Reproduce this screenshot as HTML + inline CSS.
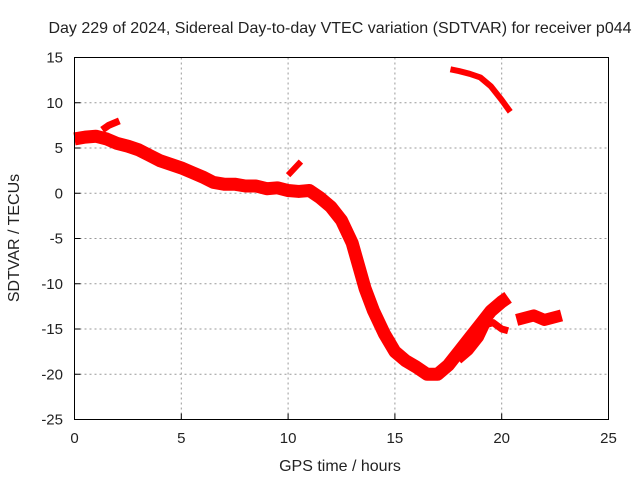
<!DOCTYPE html>
<html><head><meta charset="utf-8"><style>
body{margin:0;background:#fff}
text{font-family:"Liberation Sans",sans-serif;font-size:15px;fill:#222}
.big{font-size:16px}
</style></head><body>
<svg id="chart" width="640" height="480" xmlns="http://www.w3.org/2000/svg">
<text class="big" x="340" y="33" text-anchor="middle">Day 229 of 2024, Sidereal Day-to-day VTEC variation (SDTVAR) for receiver p044</text>
<g id="grid"></g><g id="ticks"></g><g id="series"></g>
<rect x="74.5" y="57.5" width="534" height="362" fill="none" stroke="#000" stroke-width="1"/>
<text class="big" transform="translate(19,238) rotate(-90)" text-anchor="middle">SDTVAR / TECUs</text>
<text class="big" x="340" y="471" text-anchor="middle">GPS time / hours</text>
</svg>
<script>
const xTicks=[0,5,10,15,20,25];
const yTicks=[15,10,5,0,-5,-10,-15,-20,-25];
const mainT=[0,0.5,1,1.5,2,2.5,3,3.5,4,4.5,5,5.5,6,6.5,7,7.5,8,8.5,9,9.5,10,10.5,11,11.5,12,12.5,13,13.3,13.6,14,14.5,15,15.5,16,16.5,17,17.5,18,18.5,19,19.5,20,20.3];
const mainV=[6,6.2,6.3,6,5.5,5.2,4.8,4.2,3.6,3.2,2.8,2.3,1.8,1.2,1,1,0.8,0.8,0.5,0.6,0.3,0.2,0.3,-0.5,-1.5,-3,-5.5,-8,-10.5,-13,-15.5,-17.5,-18.5,-19.2,-20,-20,-19,-17.5,-16,-14.5,-13,-12,-11.5];
const branchT=[18,18.5,19,19.3,19.6,20,20.3];
const branchV=[-18.5,-17.5,-16,-14.5,-14.3,-15,-15.2];
const earlyT=[1.3,1.6,2.1];
const earlyV=[7,7.5,8];
const rightT=[20.7,21.5,22,22.8];
const rightV=[-14,-13.5,-14,-13.5];
const topT=[17.6,18,18.5,19,19.5,20,20.4];
const topV=[13.7,13.5,13.2,12.8,11.8,10.3,9];
const spikeT=[10,10.6];
const spikeV=[2,3.5];
const X=t=>74.5+t*(534/25);
const Y=v=>57.5+(15-v)*(362/40);
const NS="http://www.w3.org/2000/svg";
const g=document.getElementById('grid'),tk=document.getElementById('ticks'),sr=document.getElementById('series');
function mk(tag,attrs,parent){const e=document.createElementNS(NS,tag);for(const k in attrs)e.setAttribute(k,attrs[k]);parent.appendChild(e);return e;}
xTicks.forEach(t=>{
 if(t>0&&t<25){const l=mk('line',{x1:X(t),x2:X(t),y1:57.5,y2:419.5,stroke:'#999','stroke-dasharray':'2,3'},g);
 
 }
 const m=mk('line',{x1:X(t),x2:X(t),y1:419.5,y2:413.5,stroke:'#000'},tk);
 
 
 const tx=mk('text',{x:X(t),y:443,'text-anchor':'middle'},tk);tx.textContent=t;
 
 
});
yTicks.forEach(v=>{
 if(v<15&&v>-25){const l=mk('line',{x1:74.5,x2:608.5,y1:Y(v),y2:Y(v),stroke:'#999','stroke-dasharray':'2,3'},g);
 
 }
 const m=mk('line',{x1:74.5,x2:80.5,y1:Y(v),y2:Y(v),stroke:'#000'},tk);
 
 
 const tx=mk('text',{x:63,y:Y(v)+5,'text-anchor':'end'},tk);tx.textContent=v;
 
 
});
function line(T,V,w,name){
 const p=mk('polyline',{points:T.map((t,i)=>X(t)+','+Y(V[i])).join(' '),fill:'none',stroke:'#f00','stroke-width':w,'stroke-linejoin':'round','stroke-linecap':'butt'},sr);
 
 
}
line(mainT,mainV,13,'sdtvar-main-trace');
line(branchT,branchV,7,'sdtvar-branch-trace');
line(earlyT,earlyV,7,'sdtvar-early-trace');
line(rightT,rightV,12,'sdtvar-late-trace');
line(topT,topV,6,'sdtvar-top-trace');
line(spikeT,spikeV,6,'sdtvar-spike-trace');
</script>
</body></html>
